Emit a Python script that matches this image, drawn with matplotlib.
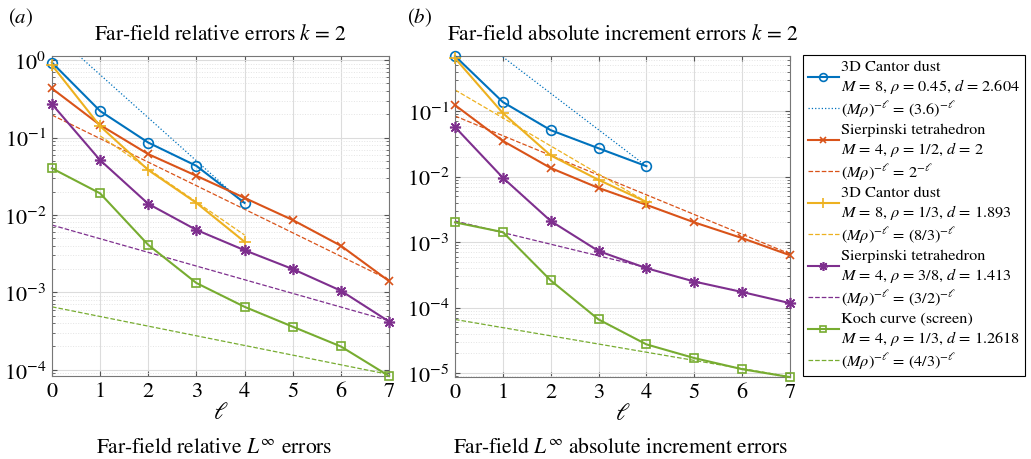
import numpy as np
import matplotlib
matplotlib.use("Agg")
from matplotlib import pyplot as plt
from matplotlib.ticker import LogLocator, NullFormatter

# levels
ell = np.arange(8)

# (a) far-field relative errors, k = 2
rel_cantor45 = [0.93, 0.22, 0.086, 0.043, 0.0143]
rel_sierp2 = [0.43, 0.145, 0.061, 0.032, 0.0166, 0.0086, 0.0040, 0.0014]
rel_cantor13 = [0.86, 0.14, 0.038, 0.0143, 0.0045]
rel_sierp38 = [0.27, 0.051, 0.0139, 0.0064, 0.0035, 0.0020, 0.00105, 0.00042]
rel_koch = [0.040, 0.019, 0.0041, 0.00132, 0.00065, 0.00036, 0.0002, 8.3e-5]
rel_ref_ell = [(0, 4), (0, 7), (1, 4), (0, 7), (0, 7)]
rel_ref_val = [(2.33, 0.0139), (0.195, 0.00145), (0.105, 0.0055), (0.0074, 0.00043), (0.00065, 8.7e-5)]

# (b) far-field absolute increment errors, k = 2
inc_cantor45 = [0.69, 0.137, 0.051, 0.027, 0.0144]
inc_sierp2 = [0.123, 0.035, 0.0135, 0.0067, 0.0037, 0.0020, 0.00115, 0.00063]
inc_cantor13 = [0.64, 0.093, 0.021, 0.0089, 0.0041]
inc_sierp38 = [0.057, 0.0096, 0.0021, 0.00073, 0.00040, 0.00025, 0.000173, 0.000117]
inc_koch = [0.0020, 0.00142, 0.00026, 6.6e-5, 2.75e-5, 1.7e-5, 1.15e-5, 8.7e-6]
inc_ref_ell = [(1, 4), (0, 7), (0, 4), (0, 4), (0, 7)]
inc_ref_val = [(0.67, 0.0144), (0.084, 0.00066), (0.21, 0.0041), (0.0021, 0.00041), (6.6e-5, 8.8e-6)]

series_labels = [
    "3D Cantor dust\n$M$ = 8, $\\rho$ = 0.45, $d$ = 2.604",
    "Sierpinski tetrahedron\n$M$ = 4, $\\rho$ = 1/2, $d$ = 2",
    "3D Cantor dust\n$M$ = 8, $\\rho$ = 1/3, $d$ = 1.893",
    "Sierpinski tetrahedron\n$M$ = 4, $\\rho$ = 3/8, $d$ = 1.413",
    "Koch curve (screen)\n$M$ = 4, $\\rho$ = 1/3, $d$ = 1.2618",
]
ref_labels = [
    "$(M\\rho)^{-\\ell}$ = (3.6)$^{-\\ell}$",
    "$(M\\rho)^{-\\ell}$ = 2$^{-\\ell}$",
    "$(M\\rho)^{-\\ell}$ = (8/3)$^{-\\ell}$",
    "$(M\\rho)^{-\\ell}$ = (3/2)$^{-\\ell}$",
    "$(M\\rho)^{-\\ell}$ = (4/3)$^{-\\ell}$",
]

colors = ["#0072BD", "#D95319", "#EDB120", "#7E2F8E", "#77AC30"]
markers = ["o", "x", "+", (8, 2, 0), "s"]
msizes = [7, 6, 9, 8, 6]
ref_styles = [":", "--", "--", "--", "--"]

plt.rcParams["font.family"] = "STIXGeneral"
plt.rcParams["mathtext.fontset"] = "stix"


def draw_panel(ax, data, ref_ell, ref_val, ylim, title):
    handles = []
    for i, vals in enumerate(data):
        h, = ax.plot(ell[:len(vals)], vals, color=colors[i], marker=markers[i],
                     ms=msizes[i], mfc="none", mew=1.2, lw=1.5, clip_on=False, zorder=3)
        r, = ax.plot(ref_ell[i], ref_val[i], color=colors[i], ls=ref_styles[i], lw=0.9, zorder=2)
        handles += [h, r]
    ax.set_yscale("log")
    ax.set_xlim(0, 7)
    ax.set_ylim(*ylim)
    ax.set_xticks(ell)
    ax.yaxis.set_major_locator(LogLocator(base=10, numticks=10))
    ax.yaxis.set_minor_locator(LogLocator(base=10, subs=np.arange(2, 10), numticks=10))
    ax.yaxis.set_minor_formatter(NullFormatter())
    ax.grid(which="major", color="#dcdcdc", lw=0.8)
    ax.grid(which="minor", axis="y", color="#e4e4e4", ls=":", lw=0.7)
    ax.tick_params(which="both", direction="in", top=True, right=True, labelsize=16,
                   color="#555555", pad=4)
    ax.tick_params(which="minor", length=2)
    for s in ax.spines.values():
        s.set_color("#777777")
        s.set_linewidth(0.8)
    ax.set_xlabel("$\\ell$", fontsize=17, labelpad=0)
    ax.set_title(title, fontsize=15.5, pad=12)
    return handles


fig = plt.figure(figsize=(10.31, 4.60), dpi=100)
ax1 = fig.add_axes([0.0504, 0.1804, 0.3269, 0.6957])
ax2 = fig.add_axes([0.4413, 0.178, 0.3249, 0.698])

draw_panel(ax1, [rel_cantor45, rel_sierp2, rel_cantor13, rel_sierp38, rel_koch],
           rel_ref_ell, rel_ref_val, (8.3e-5, 1.13), "Far-field relative errors $k$ = 2")
handles = draw_panel(ax2, [inc_cantor45, inc_sierp2, inc_cantor13, inc_sierp38, inc_koch],
                     inc_ref_ell, inc_ref_val, (8.7e-6, 0.69),
                     "Far-field absolute increment errors $k$ = 2")

labels = []
for s, r in zip(series_labels, ref_labels):
    labels += [s, r]

leg = fig.legend(handles, labels, loc="upper right", bbox_to_anchor=(1025 / 1031, 1 - 56 / 460),
                 fontsize=11.7, handlelength=1.9, handletextpad=0.15, labelspacing=0.23,
                 borderpad=0.3, borderaxespad=0, fancybox=False, framealpha=1, markerscale=0.8)
leg.get_frame().set_edgecolor("black")
leg.get_frame().set_linewidth(0.8)

fig.text(8 / 1031, 1 - 18 / 460, "($a$)", fontsize=15, va="center", ha="left")
fig.text(407 / 1031, 1 - 18 / 460, "($b$)", fontsize=15, va="center", ha="left")
fig.text(214 / 1031, 1 - 448 / 460, "Far-field relative $L^{\\infty}$ errors", fontsize=15.5,
         ha="center", va="center")
fig.text(620 / 1031, 1 - 448 / 460, "Far-field $L^{\\infty}$ absolute increment errors", fontsize=15.5,
         ha="center", va="center")

fig.savefig("out.png", dpi=100)
